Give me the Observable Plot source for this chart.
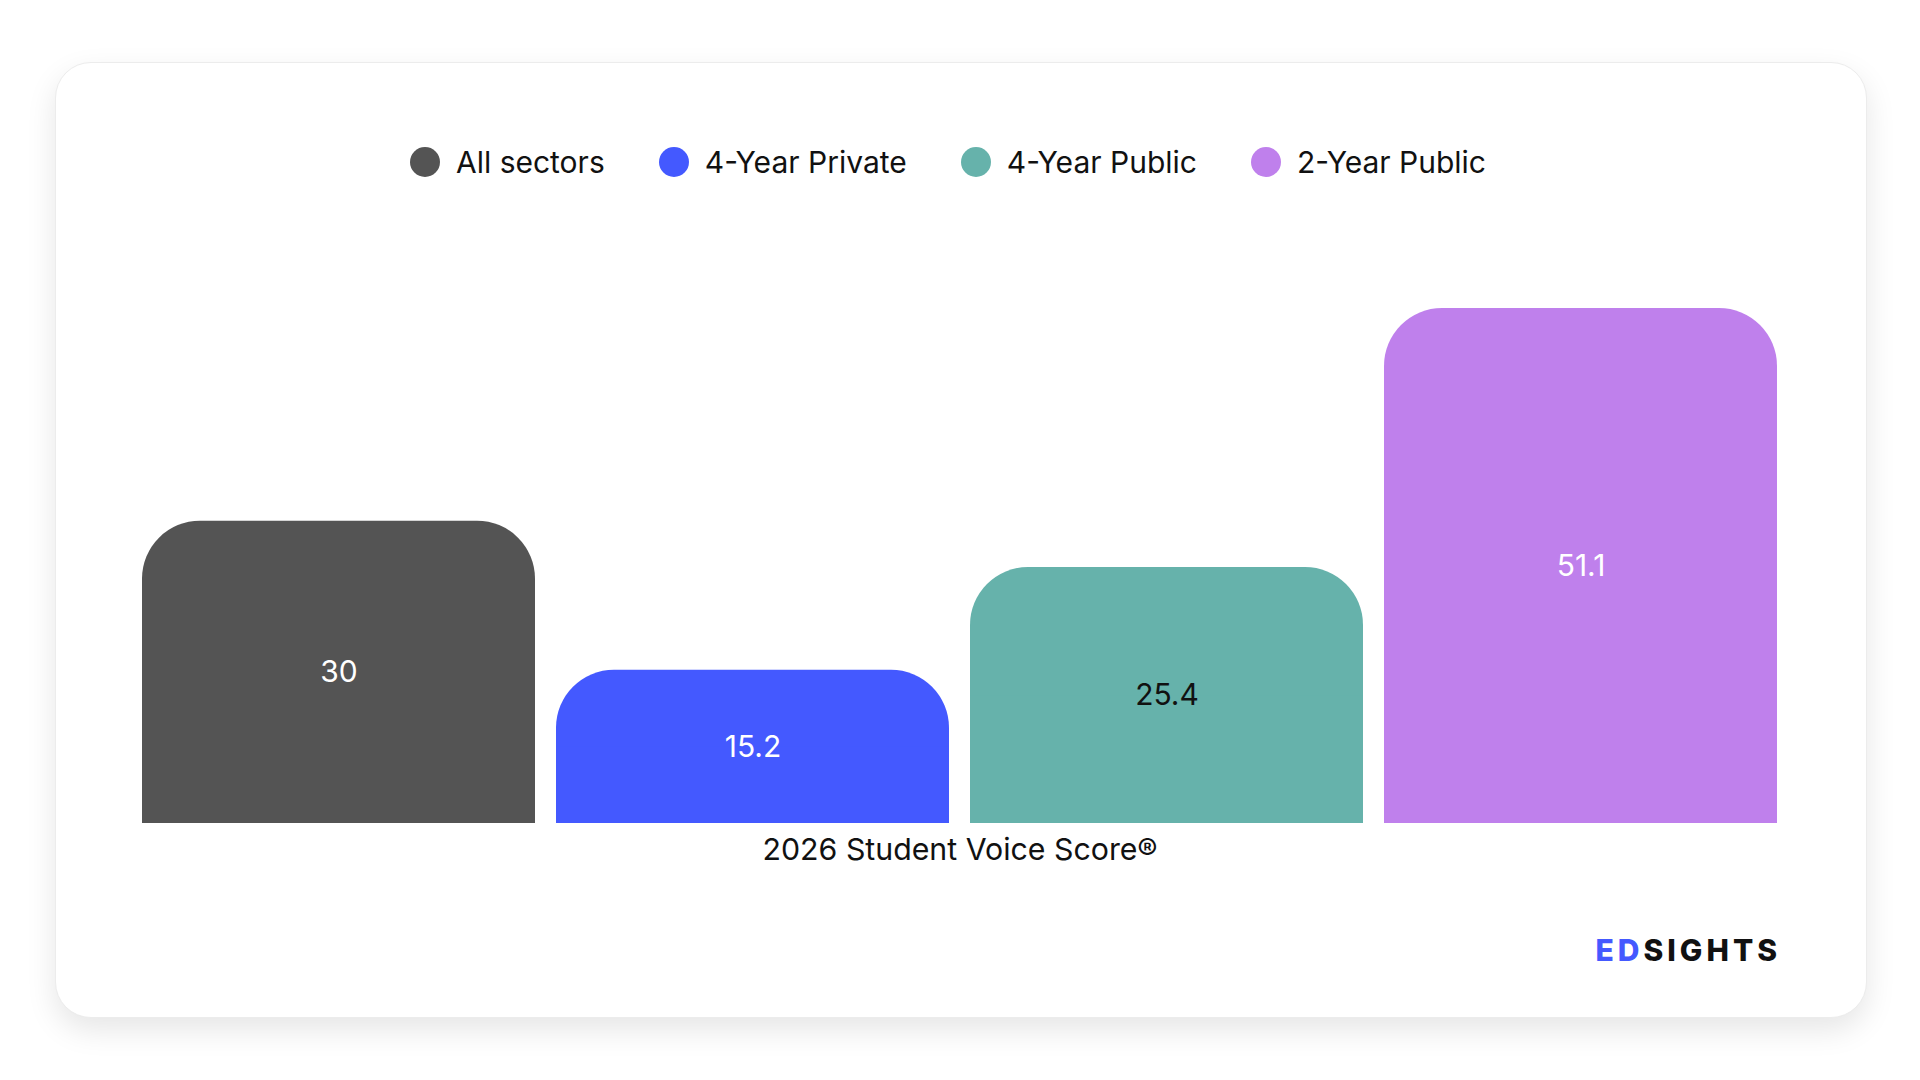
<!DOCTYPE html>
<html>
<head>
<meta charset="utf-8">
<script src="https://cdn.jsdelivr.net/npm/d3@7"></script>
<script src="https://cdn.jsdelivr.net/npm/@observablehq/plot@0.6"></script>
<style>
  html, body { margin: 0; padding: 0; background: #ffffff; }
  body { width: 1920px; height: 1080px; position: relative; overflow: hidden; font-family: Inter, "Noto Sans", sans-serif; }
  #card {
    position: absolute; left: 55px; top: 62px; width: 1810px; height: 954px;
    background: #fff; border: 1px solid #ececec; border-radius: 36px;
    box-shadow: 0 12px 30px rgba(0,0,0,0.10);
  }
  #legend {
    position: absolute; left: 0; top: 142px; width: 1896px; height: 40px;
    display: flex; justify-content: center; align-items: center;
    font-size: 30px; color: #111;
  }
  .item { display: flex; align-items: center; margin: 0 27px; }
  .sw { width: 30px; height: 30px; border-radius: 50%; margin-right: 16px; }
  #chart { position: absolute; left: 0; top: 220px; }
  #logo {
    position: absolute; right: 143px; top: 932px;
    font-family: Inter, sans-serif; font-weight: 800; font-size: 30px; letter-spacing: 4px;
    color: #111; line-height: 36px; margin-right: -4px;
  }
  #logo .ed { color: #4459ff; }
</style>
</head>
<body>
<div id="card"></div>
<div id="legend"></div>
<div id="chart"></div>
<div id="logo"><span class="ed">ED</span>SIGHTS</div>
<script>
const categories = ["All sectors", "4-Year Private", "4-Year Public", "2-Year Public"];
const values = [30, 15.2, 25.4, 51.1];
const colors = ["#545454", "#4459ff", "#66b2ab", "#bf80ec"];
const labelColors = ["#ffffff", "#ffffff", "#111111", "#ffffff"];
const axisLabel = "2026 Student Voice Score®";

const data = categories.map((c, i) => ({category: c, value: values[i], color: colors[i], labelColor: labelColors[i]}));

// legend
const legend = document.getElementById("legend");
categories.forEach((c, i) => {
  const it = document.createElement("div");
  it.className = "item";
  it.innerHTML = `<span class="sw" style="background:${colors[i]}"></span><span>${c}</span>`;
  legend.appendChild(it);
});

const plot = Plot.plot({
  width: 1920,
  height: 660,
  marginLeft: 141,
  marginRight: 142,
  marginTop: 88,
  marginBottom: 57,
  style: {background: "transparent", fontFamily: "Inter, sans-serif"},
  x: {domain: categories, paddingInner: 0.05, paddingOuter: 0, axis: null},
  y: {domain: [0, 51.1], axis: null},
  color: {domain: categories, range: colors},
  marks: [
    Plot.barY(data, {x: "category", y: "value", fill: "color", rx: 58, ry: 58}),
    Plot.barY(data, {x: "category", y1: 0, y2: d => d.value / 2, fill: "color"}),
    Plot.text(data, {x: "category", y: d => d.value / 2, text: d => String(d.value), fill: "labelColor", fontSize: 30}),
    Plot.text([axisLabel], {frameAnchor: "bottom", dy: 27, text: d => d, fontSize: 30.3, fill: "#111", lineAnchor: "middle"})
  ]
});
document.getElementById("chart").appendChild(plot);
</script>
</body>
</html>
